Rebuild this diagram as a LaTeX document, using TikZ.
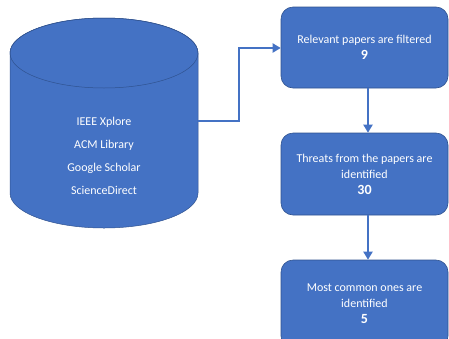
\documentclass[tikz,border=0pt]{standalone}
\usepackage{fontspec}
\setmainfont{Carlito}
\usetikzlibrary{arrows.meta,positioning}
\definecolor{offblue}{HTML}{4472C4}
\definecolor{edgeblue}{HTML}{2F528F}
\tikzset{
  stepbox/.style={draw=edgeblue, line width=0.6pt, fill=offblue, rounded corners=12pt, minimum width=167pt, align=center, text=white, font=\fontsize{12}{16}\selectfont, inner sep=0pt},
  flow/.style={draw=offblue, line width=2.8pt, -{Triangle[length=8pt,width=9pt]}}
}
\newcommand{\bignum}[1]{{\bfseries\fontsize{14}{17}\selectfont #1}}
\begin{document}
\begin{tikzpicture}[x=1pt,y=-1pt]
\useasboundingbox (0,0) rectangle (449,338);
% cylinder
\path[fill=offblue, draw=edgeblue, line width=0.5pt]
  (10,53) -- (10,193) arc[start angle=180, end angle=0, x radius=94, y radius=35]
  -- (198,53) arc[start angle=0, end angle=-180, x radius=94, y radius=35] -- cycle;
\draw[edgeblue, line width=0.5pt] (104,53) ellipse[x radius=94, y radius=35];
\node[text=white, font=\fontsize{12}{23}\selectfont, align=center] (db) at (104,156)
  {IEEE Xplore\\ACM Library\\Google Scholar\\ScienceDirect};
\coordinate (dbr) at (198,121);
% boxes
\node[stepbox, minimum height=81pt] (b1) at (364.5,47.5)
  {Relevant papers are filtered\\\bignum{9}};
\node[stepbox, minimum height=82pt] (b2) at (364.5,174)
  {Threats from the papers are\\identified\\\bignum{30}};
\node[stepbox, minimum height=88pt] (b3) at (364.5,304)
  {Most common ones are\\identified\\\bignum{5}};
% connectors
\draw[flow] (dbr) -- (239,121) -- (239,48) -- (b1.west |- 0,48);
\draw[flow] (b1.south -| 368,0) -- (b2.north -| 368,0);
\draw[flow] (b2.south -| 368,0) -- (b3.north -| 368,0);
\end{tikzpicture}
\end{document}
